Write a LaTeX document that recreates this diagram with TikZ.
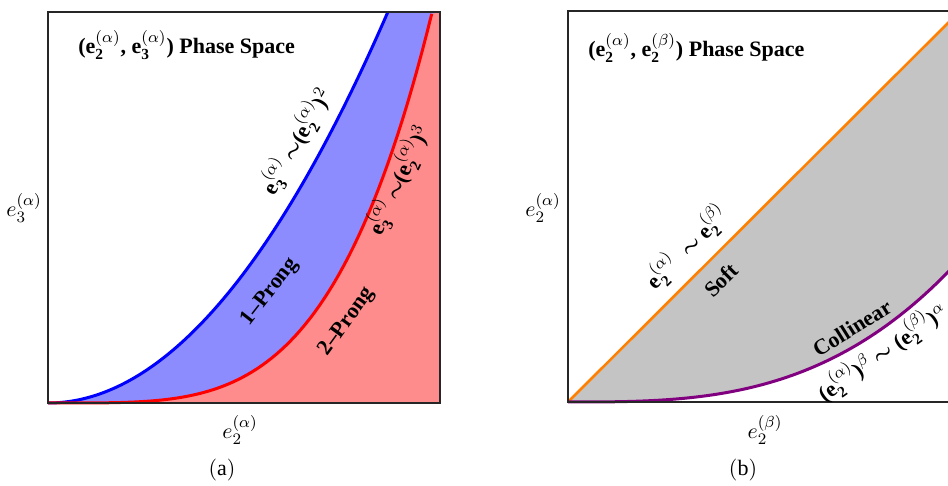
\documentclass[tikz,border=0pt]{standalone}
\usepackage{amsmath}
\usepackage{fontspec}
\setmainfont{Liberation Serif}

\definecolor{azulclaro}{RGB}{140,140,255}
\definecolor{rojoclaro}{RGB}{255,140,140}
\definecolor{grisfondo}{RGB}{196,196,196}
\definecolor{naranja}{RGB}{255,128,0}
\definecolor{morado}{RGB}{128,0,128}

\newcommand{\eal}[2]{\textbf{e}$_{\mathbf{#1}}^{(#2)}$}
\newcommand{\simb}{$\boldsymbol{\sim}$}

\tikzset{
  marco/.style={draw=black!85, line width=0.8pt},
  curva/.style={line width=1.5pt},
  etiqueta/.style={font=\fontsize{11}{13}\selectfont\bfseries, inner sep=0pt},
  eje/.style={font=\fontsize{11}{13}\selectfont, inner sep=0pt},
}

\begin{document}
\begin{tikzpicture}[x=0.5pt, y=0.5pt]
\useasboundingbox (0,0) rectangle (948,486);
\clip (0,0) rectangle (948,486);

% Panel (a)
\begin{scope}[shift={(48,83)}, x=196pt, y=195.5pt]
	\fill[azulclaro] (0,0) -- plot[domain=0:0.867, samples=80] (\x,{(\x/0.867)^2}) -- (1,1) -- (1,0) -- cycle;
	\fill[rojoclaro] (0,0) -- plot[domain=0:0.98, samples=80] (\x,{(\x/0.98)^4}) -- (1,1) -- (1,0) -- cycle;
	\draw[curva, blue] plot[domain=0:0.867, samples=80] (\x,{(\x/0.867)^2});
	\draw[curva, red] plot[domain=0:0.98, samples=80] (\x,{(\x/0.98)^4});
	\draw[marco] (0,0) rectangle (1,1);
\end{scope}

\node[etiqueta, anchor=west] (tituloA) at (78,441)
	{(\eal{2}{\alpha}, \eal{3}{\alpha}) Phase Space};
\node[etiqueta, rotate=60] (leyAzul) at (296,345)
	{\eal{3}{\alpha}\,\simb(\eal{2}{\alpha})$^2$};
\node[etiqueta, rotate=65] (leyRoja) at (398,306)
	{\eal{3}{\alpha}\,\simb(\eal{2}{\alpha})$^3$};
\node[etiqueta, rotate=52] (unaRama) at (270,194) {1--Prong};
\node[etiqueta, rotate=54] (dosRamas) at (347,164) {2--Prong};
\node[eje] (ejeYa) at (24,278) {$e_3^{(\alpha)}$};
\node[eje] (ejeXa) at (240,56) {$e_2^{(\alpha)}$};
\node[eje] (rotA) at (222,16) {$(\mathrm{a})$};

% Panel (b)
\begin{scope}[shift={(568,84)}, x=196pt, y=195.5pt]
	\fill[grisfondo] (0,0) -- (1,1) -- plot[domain=1:0, samples=80] (\x,{0.365*\x^3}) -- cycle;
	\draw[line width=1.3pt, naranja] (0,0) -- (1,1);
	\draw[curva, morado] plot[domain=0:1, samples=80] (\x,{0.365*\x^3});
	\draw[marco] (0,0) rectangle (1,1);
\end{scope}

\node[etiqueta, anchor=west] (tituloB) at (588,438)
	{(\eal{2}{\alpha}, \eal{2}{\beta}) Phase Space};
\node[etiqueta, rotate=45] (leySuave) at (687,239)
	{\eal{2}{\alpha}\ \ \simb\ \eal{2}{\beta}};
\node[etiqueta, rotate=45] (suave) at (721,206) {Soft};
\node[etiqueta, rotate=32] (colineal) at (852,158) {Collinear};
\node[etiqueta, rotate=35] (leyColineal) at (882,134)
	{(\eal{2}{\alpha})$^\beta$ \simb\ (\eal{2}{\beta})$^\alpha$};
\node[eje] (ejeYb) at (543,278) {$e_2^{(\alpha)}$};
\node[eje] (ejeXb) at (765,56) {$e_2^{(\beta)}$};
\node[eje] (rotB) at (743,16) {$(\mathrm{b})$};
\end{tikzpicture}
\end{document}
